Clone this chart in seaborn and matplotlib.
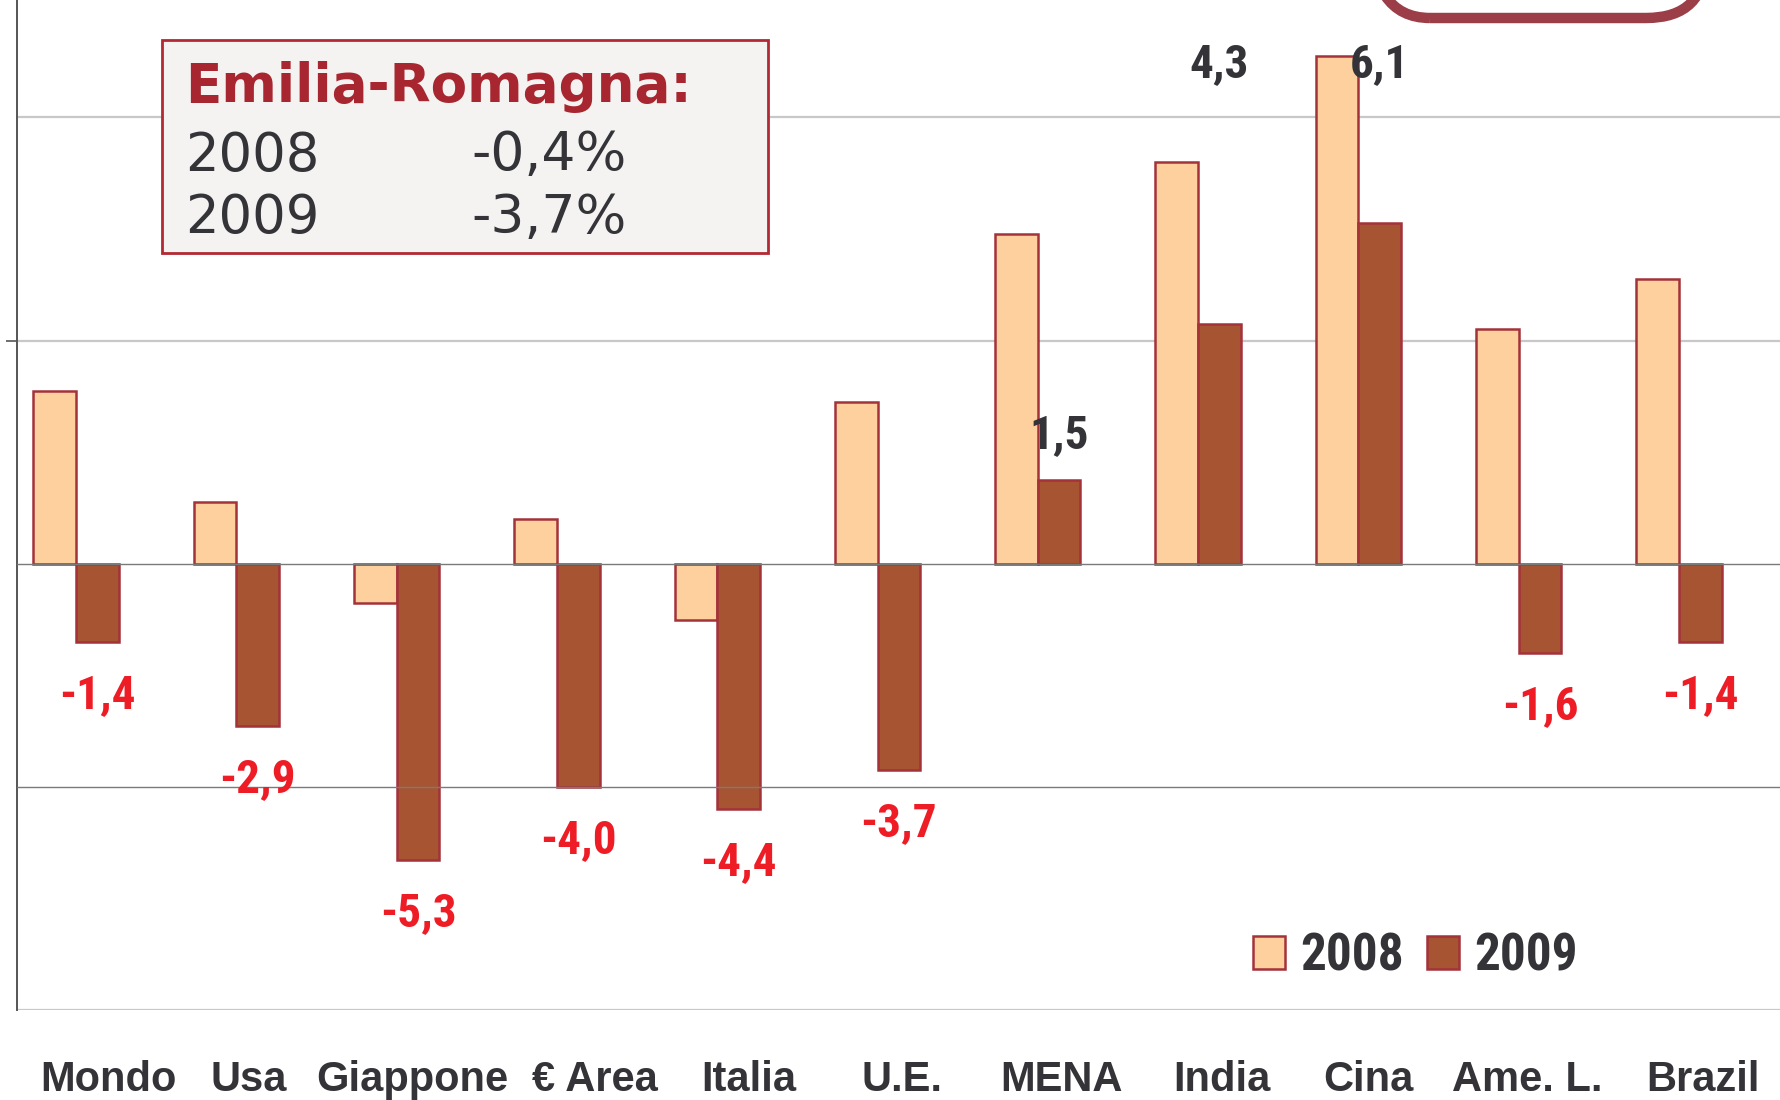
import matplotlib
matplotlib.use('Agg')
import matplotlib.pyplot as plt
import matplotlib.patches as mpatches
import seaborn as sns
import pandas as pd

# data (% change of GDP)
areas = ['Mondo', 'Usa', 'Giappone', '€ Area', 'Italia', 'U.E.', 'MENA', 'India', 'Cina', 'Ame. L.', 'Brazil']
val_2008 = [3.1, 1.1, -0.7, 0.8, -1.0, 2.9, 5.9, 7.2, 9.1, 4.2, 5.1]
val_2009 = [-1.4, -2.9, -5.3, -4.0, -4.4, -3.7, 1.5, 4.3, 6.1, -1.6, -1.4]
years = ['2008', '2009']
box_title = 'Emilia-Romagna:'
box_rows = [('2008', '-0,4%'), ('2009', '-3,7%')]

# style
c2008 = '#fdd09e'
c2009 = '#a65432'
edge = '#a3323a'
red = '#ee1c25'
dark = '#333338'
narrow = ['Roboto Condensed', 'PT Sans Narrow', 'Liberation Sans']

df = pd.DataFrame({
    'area': areas * 2,
    'anno': [years[0]] * len(areas) + [years[1]] * len(areas),
    'value': val_2008 + val_2009,
})

sns.set_style('white')
fig = plt.figure(figsize=(17.8, 11), dpi=100)
ax = fig.add_axes([0.0096, 0.0815, 0.9904, 0.9185])

sns.barplot(data=df, x='area', y='value', hue='anno', hue_order=years,
            palette=[c2008, c2009], saturation=1, width=0.532, edgecolor=edge,
            linewidth=1.8, legend=False, ax=ax, zorder=3)

ax.set_xlim(-0.368, 10.63)
ax.set_ylim(-8, 10.1)

# grid lines
for g in [8, 4, -8]:
    ax.axhline(g, color='#c8c8c8', lw=1.6, zorder=1)
for g in [0, -4]:
    ax.axhline(g, color='#7a7a7a', lw=1.0, zorder=4)

for s in ['top', 'right', 'bottom']:
    ax.spines[s].set_visible(False)
ax.spines['left'].set_color('#555555')
ax.spines['left'].set_linewidth(1.4)
ax.set_yticks([4])
ax.set_yticklabels([])
ax.tick_params(axis='y', length=8, width=1.2, color='#555555', direction='out', left=True)
ax.set_xlabel('')
ax.set_ylabel('')

# category labels under the plot
ax.set_xticks([])
label_nudge = [0.2, 0.075, 0.1, 0.24, 0.2, 0.155, 0.15, 0.15, 0.065, 0.055, 0.15]
for i, name in enumerate(areas):
    ax.annotate(name, xy=(i + label_nudge[i], 0), xycoords=('data', 'axes fraction'),
                xytext=(0, -58), textcoords='offset points', ha='center', va='baseline',
                fontsize=30, fontweight='bold', color=dark, family='Liberation Sans')

# value labels for 2009
label_y_override = {'India': 8.95, 'Cina': 8.95}
off = 0.532 / 4
for i, (name, v) in enumerate(zip(areas, val_2009)):
    txt = f'{v:.1f}'.replace('.', ',')
    if v < 0:
        y, col = v - 0.95, red
    else:
        y, col = label_y_override.get(name, v + 0.8), dark
    ax.text(i + off, y, txt, ha='center', va='center', fontsize=34,
            fontweight='bold', color=col, family=narrow, zorder=5)

# legend
handles = [mpatches.Patch(facecolor=c2008, edgecolor=edge, lw=1.8),
           mpatches.Patch(facecolor=c2009, edgecolor=edge, lw=1.8)]
leg = fig.legend(handles, years, loc='center left', bbox_to_anchor=(0.678, 0.1303),
                 ncol=2, frameon=False, handlelength=0.62, handleheight=0.62,
                 handletextpad=0.3, columnspacing=0.45,
                 prop={'family': narrow, 'weight': 'bold', 'size': 37})
for t in leg.get_texts():
    t.set_color(dark)

# Emilia-Romagna box
box = mpatches.Rectangle((0.091, 0.770), 0.3405, 0.1935, transform=fig.transFigure,
                         facecolor='#f4f3f2', edgecolor='#b22833', lw=2.0, zorder=6)
fig.patches.append(box)
fig.text(0.104, 0.907, box_title, fontsize=38.3, fontweight='bold', color='#a8262f',
         family='DejaVu Sans', va='baseline', zorder=7)
for k, (yr, pct) in enumerate(box_rows):
    yb = 0.845 - k * 0.057
    fig.text(0.104, yb, yr, fontsize=38, color=dark, family='DejaVu Sans', va='baseline', zorder=7)
    fig.text(0.265, yb, pct, fontsize=38.5, color=dark, family='DejaVu Sans', va='baseline', zorder=7)

# cut-off rounded frame at top right
frame = mpatches.FancyBboxPatch((13.70, 10.82), 3.36, 1.5,
                                boxstyle='round,pad=0,rounding_size=0.6',
                                transform=fig.dpi_scale_trans, facecolor='none',
                                edgecolor='#9b3e48', lw=7.5)
fig.patches.append(frame)

fig.savefig('out.png', dpi=100)
